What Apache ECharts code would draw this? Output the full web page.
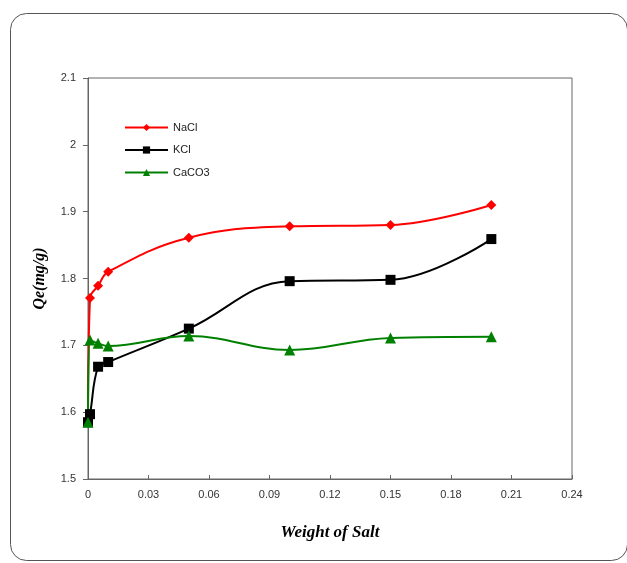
<!DOCTYPE html>
<html><head><meta charset="utf-8">
<script src="https://cdn.jsdelivr.net/npm/echarts@6/dist/echarts.min.js"></script>
<style>html,body{margin:0;padding:0;background:#fff}#c{width:627px;height:563px}</style>
</head><body><div id="c"></div>
<script>
const weights = [0, 0.001, 0.005, 0.01, 0.05, 0.1, 0.15, 0.2];
const nacl = [1.585, 1.771, 1.789, 1.810, 1.861, 1.878, 1.880, 1.910];
const kcl = [1.585, 1.597, 1.668, 1.675, 1.725, 1.796, 1.798, 1.859];
const caco3 = [1.585, 1.708, 1.703, 1.699, 1.714, 1.693, 1.711, 1.713];
const seriesNames = ['NaCl', 'KCl', 'CaCO3'];
const xTitle = 'Weight of Salt';
const yTitle = 'Qe(mg/g)';

const pairs = a => weights.map((w, i) => [w, a[i]]);
const chart = echarts.init(document.getElementById('c'));
const lbl = {color: '#333', fontFamily: 'Liberation Sans, Arial', fontSize: 11};
function mk(name, data, color, symbol, size) {
  return {name, type: 'line', data: pairs(data), smooth: 0.4, symbol, symbolSize: size,
    lineStyle: {color, width: 2}, itemStyle: {color}, z: 3};
}
chart.setOption({
  animation: false,
  graphic: [{type: 'rect', left: 8, top: 11, shape: {width: 617, height: 547, r: 16},
    style: {fill: 'none', stroke: '#555', lineWidth: 1}}],
  grid: {left: 88, right: 55, top: 78, bottom: 84, show: true, borderColor: '#666', borderWidth: 1},
  legend: {orient: 'vertical', left: 119, top: 117, itemWidth: 43, itemHeight: 9, itemGap: 11.5,
    textStyle: {...lbl, fontSize: 11, color: '#222'}, data: seriesNames},
  xAxis: {type: 'value', min: 0, max: 0.24, interval: 0.03,
    axisLine: {lineStyle: {color: '#666'}}, axisTick: {inside: true, length: 4, lineStyle: {color: '#666'}},
    splitLine: {show: false},
    axisLabel: {...lbl, margin: 10, formatter: v => String(+v.toFixed(2))},
    name: xTitle, nameLocation: 'middle', nameGap: 45,
    nameTextStyle: {fontFamily: 'Liberation Serif, Times New Roman', fontStyle: 'italic', fontWeight: 'bold', fontSize: 17, color: '#000'}},
  yAxis: {type: 'value', min: 1.5, max: 2.1, interval: 0.1,
    axisLine: {lineStyle: {color: '#666'}}, axisTick: {length: 5, lineStyle: {color: '#666'}},
    splitLine: {show: false},
    axisLabel: {...lbl, margin: 12, formatter: v => String(+v.toFixed(1))},
    name: yTitle, nameLocation: 'middle', nameGap: 40,
    nameTextStyle: {fontFamily: 'Liberation Serif, Times New Roman', fontStyle: 'italic', fontWeight: 'bold', fontSize: 16, color: '#000'}},
  series: [
    mk(seriesNames[0], nacl, '#ff0000', 'diamond', 10),
    mk(seriesNames[1], kcl, '#000000', 'rect', 10),
    mk(seriesNames[2], caco3, '#008000', 'triangle', 11)
  ]
});
</script></body></html>
